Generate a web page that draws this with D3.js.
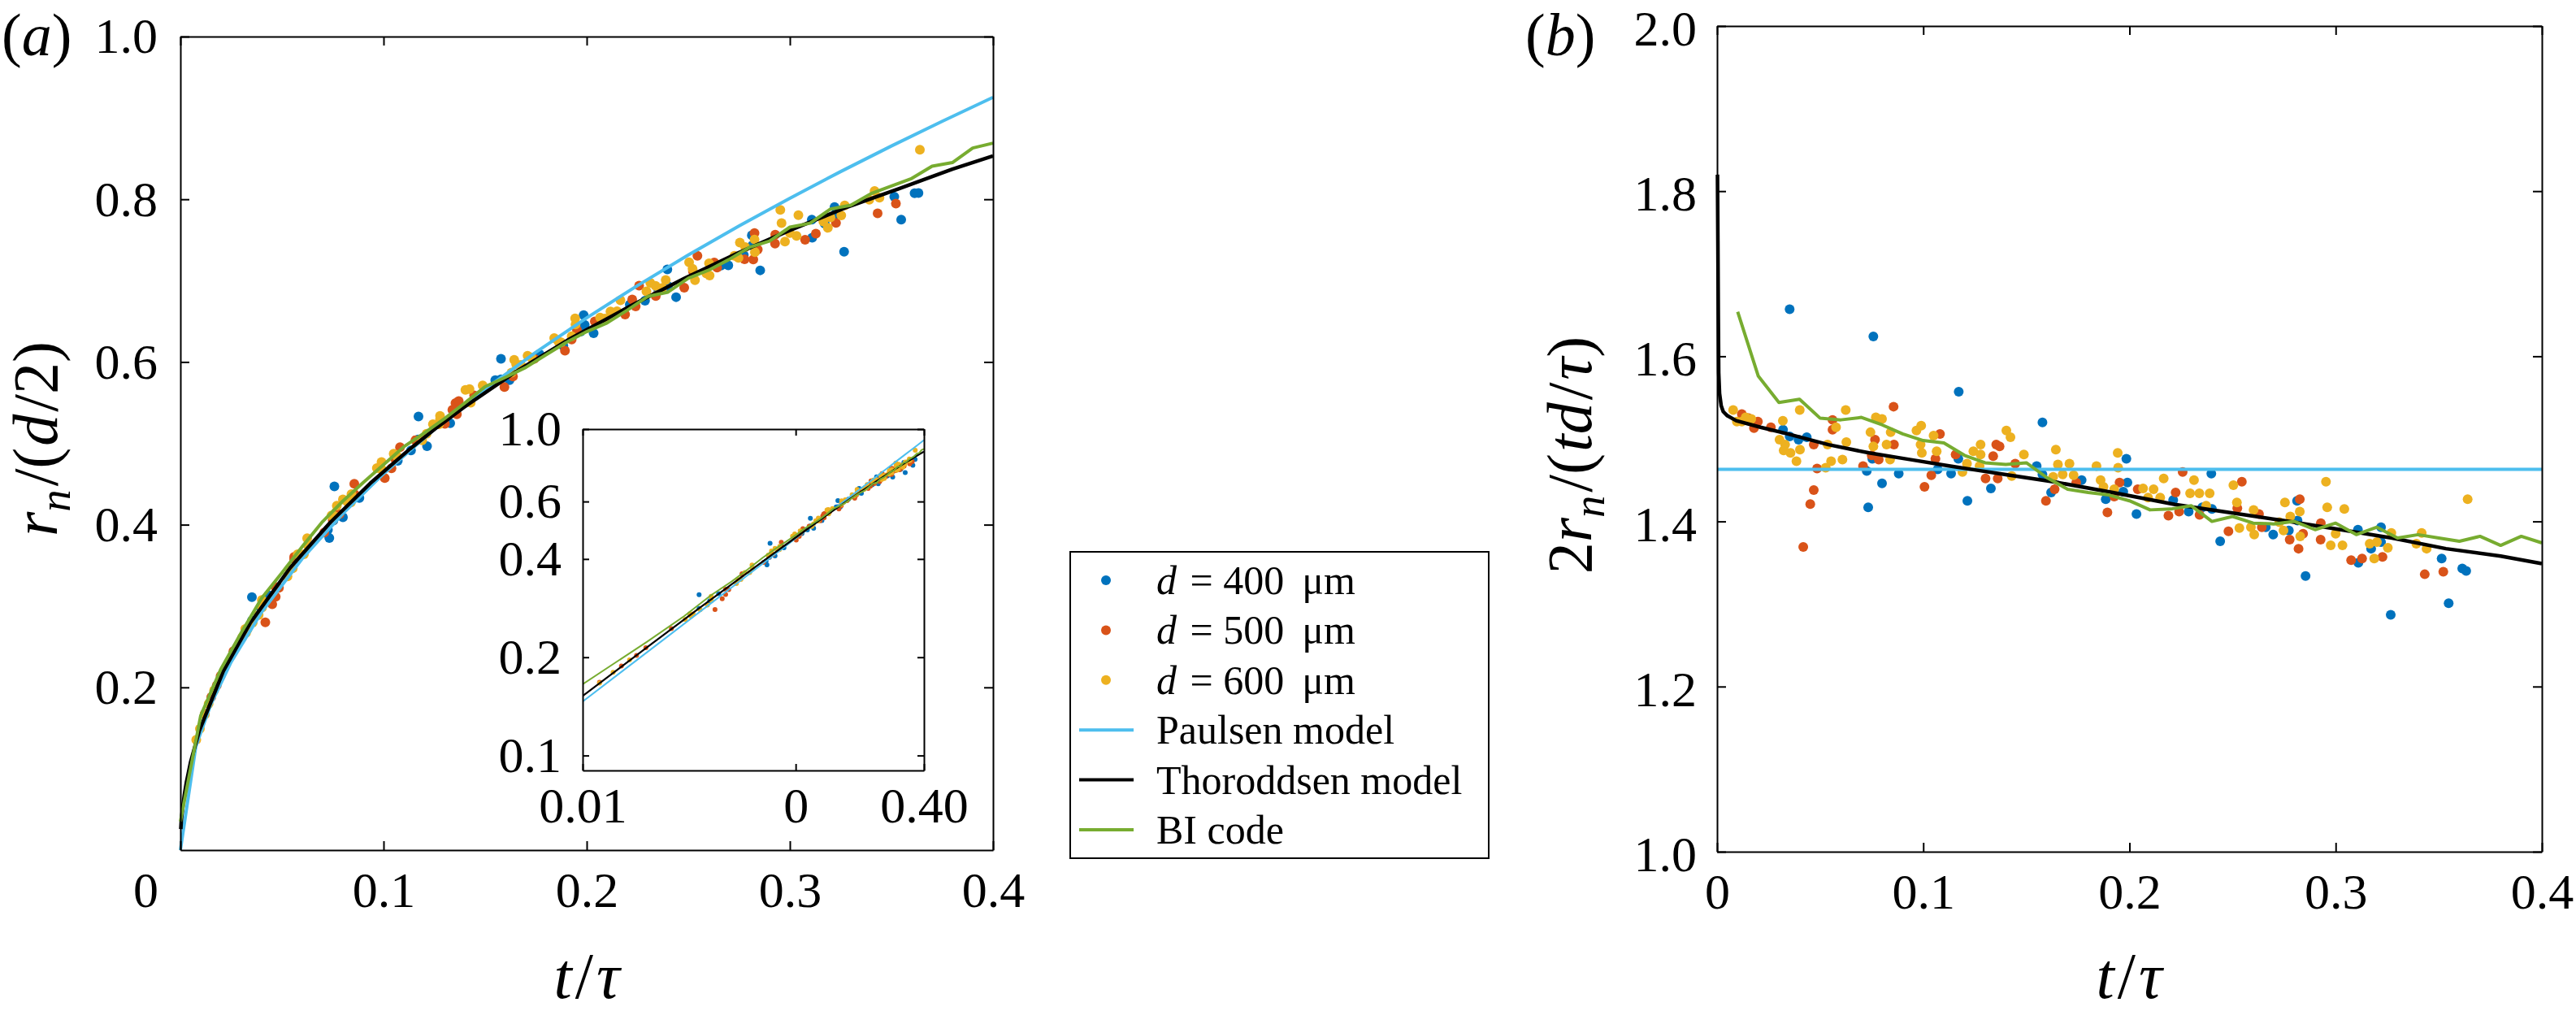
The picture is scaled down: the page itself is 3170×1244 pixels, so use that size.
<!DOCTYPE html>
<html>
<head>
<meta charset="utf-8">
<script src="https://cdn.jsdelivr.net/npm/d3@7"></script>
<style>
  body { margin: 0; background: #fff; }
  text { font-family: "Liberation Serif", "Times New Roman", serif; }
</style>
</head>
<body>
<script>
const d400T = [0.032, 0.0352, 0.0352, 0.0395, 0.0435, 0.0726, 0.0733, 0.0753, 0.0758, 0.080, 0.0881, 0.107, 0.1135, 0.117, 0.1172, 0.1214, 0.1328, 0.155, 0.1578, 0.1578, 0.162, 0.1768, 0.1885, 0.197, 0.1985, 0.199, 0.2034, 0.2212, 0.2287, 0.2353, 0.2397, 0.24, 0.244, 0.2661, 0.2697, 0.2773, 0.2813, 0.2815, 0.2854, 0.3108, 0.311, 0.3172, 0.322, 0.322, 0.3267, 0.3514, 0.3548, 0.3614, 0.3633];
const d400V = [1.511, 1.657, 1.503, 1.499, 1.502, 1.461, 1.417, 1.476, 1.624, 1.446, 1.458, 1.463, 1.458, 1.476, 1.557, 1.425, 1.440, 1.467, 1.520, 1.457, 1.435, 1.450, 1.427, 1.436, 1.476, 1.447, 1.409, 1.426, 1.412, 1.417, 1.458, 1.415, 1.376, 1.393, 1.384, 1.389, 1.425, 1.401, 1.334, 1.390, 1.350, 1.367, 1.393, 1.375, 1.287, 1.355, 1.301, 1.343, 1.340];

const d500T = [0.012, 0.0152, 0.0179, 0.0198, 0.0261, 0.0418, 0.0452, 0.0469, 0.0469, 0.0485, 0.056, 0.056, 0.0708, 0.075, 0.0766, 0.0784, 0.0856, 0.0858, 0.1006, 0.1039, 0.1059, 0.1081, 0.1157, 0.1302, 0.1339, 0.1354, 0.1361, 0.137, 0.1446, 0.1595, 0.1637, 0.1742, 0.1893, 0.1926, 0.1952, 0.204, 0.2189, 0.2224, 0.2241, 0.2258, 0.234, 0.248, 0.2523, 0.2545, 0.2628, 0.2642, 0.2777, 0.282, 0.2826, 0.2842, 0.2927, 0.2928, 0.3075, 0.3128, 0.3227, 0.3432, 0.3522];
const d500V = [1.530, 1.525, 1.513, 1.521, 1.514, 1.369, 1.421, 1.438, 1.493, 1.464, 1.523, 1.511, 1.467, 1.480, 1.499, 1.475, 1.539, 1.493, 1.442, 1.456, 1.476, 1.506, 1.481, 1.452, 1.479, 1.493, 1.452, 1.491, 1.470, 1.425, 1.439, 1.447, 1.411, 1.430, 1.447, 1.439, 1.407, 1.435, 1.412, 1.460, 1.408, 1.388, 1.416, 1.448, 1.409, 1.393, 1.378, 1.367, 1.427, 1.385, 1.378, 1.398, 1.353, 1.355, 1.357, 1.336, 1.339];

const d600T = [0.0078, 0.0096, 0.012, 0.0139, 0.0166, 0.0303, 0.0319, 0.0323, 0.033, 0.0356, 0.0385, 0.0401, 0.0402, 0.0527, 0.0536, 0.0553, 0.0577, 0.0608, 0.0624, 0.0627, 0.0744, 0.0758, 0.077, 0.08, 0.0822, 0.0839, 0.0842, 0.0967, 0.0987, 0.099, 0.0993, 0.105, 0.1065, 0.119, 0.1212, 0.1243, 0.1273, 0.1278, 0.1278, 0.1403, 0.1423, 0.1429, 0.1488, 0.163, 0.1643, 0.1653, 0.1676, 0.1709, 0.1729, 0.184, 0.186, 0.1874, 0.1926, 0.1943, 0.1945, 0.2066, 0.209, 0.2117, 0.2149, 0.2166, 0.2294, 0.2313, 0.2339, 0.2372, 0.2389, 0.2504, 0.2521, 0.2533, 0.2589, 0.2602, 0.2605, 0.2727, 0.2747, 0.2754, 0.278, 0.2826, 0.2828, 0.2953, 0.2959, 0.2976, 0.3, 0.3033, 0.3042, 0.3165, 0.3187, 0.32, 0.3253, 0.327, 0.3391, 0.3417, 0.3441, 0.364];
const d600V = [1.535, 1.521, 1.521, 1.526, 1.524, 1.499, 1.522, 1.486, 1.493, 1.483, 1.473, 1.535, 1.487, 1.465, 1.493, 1.473, 1.514, 1.475, 1.535, 1.496, 1.508, 1.491, 1.526, 1.524, 1.493, 1.475, 1.508, 1.510, 1.493, 1.516, 1.483, 1.504, 1.485, 1.460, 1.470, 1.485, 1.467, 1.493, 1.481, 1.510, 1.502, 1.455, 1.481, 1.454, 1.487, 1.469, 1.457, 1.470, 1.456, 1.467, 1.450, 1.442, 1.439, 1.483, 1.465, 1.440, 1.429, 1.439, 1.429, 1.452, 1.434, 1.450, 1.434, 1.419, 1.434, 1.444, 1.423, 1.392, 1.393, 1.414, 1.384, 1.399, 1.389, 1.423, 1.406, 1.412, 1.382, 1.448, 1.417, 1.371, 1.385, 1.371, 1.415, 1.373, 1.355, 1.375, 1.368, 1.386, 1.373, 1.386, 1.367, 1.427];

// model curves, same normalisation
const paulsenT = [0, 0.0076, 0.015, 0.025, 0.04, 0.06, 0.08, 0.1, 0.125, 0.15, 0.175, 0.2, 0.225, 0.25, 0.275, 0.3, 0.325, 0.35, 0.375, 0.4];
const paulsenV = [1.463, 1.463, 1.463, 1.463, 1.463, 1.463, 1.463, 1.463, 1.463, 1.463, 1.463, 1.463, 1.463, 1.463, 1.463, 1.463, 1.463, 1.463, 1.463, 1.463];

const thoroddsenT = [0.0002, 0.0004, 0.0006, 0.0008, 0.0012, 0.002, 0.003, 0.005, 0.0093, 0.0211, 0.0343, 0.054, 0.0737, 0.0934, 0.1131, 0.1262, 0.1394, 0.1656, 0.1919, 0.2221, 0.2481, 0.2747, 0.3, 0.3273, 0.3535, 0.38, 0.4];
const thoroddsenV = [1.82, 1.74, 1.65, 1.58, 1.555, 1.54, 1.533, 1.528, 1.522, 1.514, 1.506, 1.493, 1.483, 1.475, 1.467, 1.462, 1.457, 1.447, 1.435, 1.4206, 1.411, 1.401, 1.391, 1.380, 1.367, 1.358, 1.349];

const biT = [0.01, 0.02, 0.03, 0.04, 0.05, 0.06, 0.07, 0.08, 0.09, 0.10, 0.11, 0.12, 0.13, 0.14, 0.15, 0.16, 0.17, 0.18, 0.19, 0.20, 0.21, 0.22, 0.23, 0.24, 0.25, 0.26, 0.27, 0.28, 0.29, 0.30, 0.31, 0.32, 0.33, 0.34, 0.35, 0.36, 0.37, 0.38, 0.39, 0.40];
const biV = [1.654, 1.576, 1.544, 1.548, 1.525, 1.523, 1.526, 1.517, 1.506, 1.498, 1.495, 1.480, 1.471, 1.469, 1.471, 1.453, 1.439, 1.435, 1.432, 1.425, 1.414, 1.415, 1.419, 1.400, 1.406, 1.398, 1.397, 1.400, 1.390, 1.398, 1.384, 1.393, 1.380, 1.384, 1.380, 1.376, 1.382, 1.371, 1.382, 1.374];
// BI code in panel (a) starts from a finite radius r_n/(d/2) at t = 0
const biStartT = [0];
const biStartR = [0.035];

// ticks
const xTicks = [0, 0.1, 0.2, 0.3, 0.4];
const xTickLabels = ["0", "0.1", "0.2", "0.3", "0.4"];
const yTicksA = [0.2, 0.4, 0.6, 0.8, 1.0];
const yTickLabelsA = ["0.2", "0.4", "0.6", "0.8", "1.0"];
const yTicksB = [1.0, 1.2, 1.4, 1.6, 1.8, 2.0];
const yTickLabelsB = ["1.0", "1.2", "1.4", "1.6", "1.8", "2.0"];
const insetXTicks = [0.01, 0.1, 0.4];
const insetXTickLabels = ["0.01", "0", "0.40"];
const insetYTicks = [0.1, 0.2, 0.4, 0.6, 1.0];
const insetYTickLabels = ["0.1", "0.2", "0.4", "0.6", "1.0"];

const legendLabels = ["400", "500", "600"];
const modelNames = ["Paulsen model", "Thoroddsen model", "BI code"];

const colors = {
  d400: "#0072BD", d500: "#D95319", d600: "#EDB120",
  paulsen: "#4DBEEE", thoroddsen: "#000000", bi: "#77AC30"
};

const FONT = "Liberation Serif, Times New Roman, serif";

var svg = d3.select("body")
  .append("svg")
  .attr("width", 3170)
  .attr("height", 1244)
  .style("background", "#fff");

// scales
var xA = d3.scaleLinear().domain([0, 0.4]).range([222, 1222]);
var yA = d3.scaleLinear().domain([0, 1]).range([1046, 45]);
var xB = d3.scaleLinear().domain([0, 0.4]).range([2113, 3128]);
var yB = d3.scaleLinear().domain([1, 2]).range([1048, 32]);
var xI = d3.scaleLog().domain([0.01, 0.4]).range([717, 1137]);
var yI = d3.scaleLog().domain([0.09, 1]).range([948, 528]);

function zipPts(ts, vs) {
  return ts.map((t, i) => ({ t: t, v: vs[i] }));
}
// panel (a) shows the un-normalised radius r_n/(d/2) = value * sqrt(t/tau)
function radius(d) { return d.raw ? d.v : d.v * Math.sqrt(d.t); }
function ratio(d) { return d.v; }

var pointSets = [
  { pts: zipPts(d400T, d400V), color: colors.d400 },
  { pts: zipPts(d500T, d500V), color: colors.d500 },
  { pts: zipPts(d600T, d600V), color: colors.d600 }
];
var curveSets = [
  { pts: zipPts(paulsenT, paulsenV), color: colors.paulsen, w: 4 },
  { pts: zipPts(thoroddsenT, thoroddsenV), color: colors.thoroddsen, w: 4.5 },
  { pts: zipPts(biT, biV), color: colors.bi, w: 4 }
];
var biStart = biStartT.map((t, k) => ({ t: t, v: biStartR[k], raw: true }));

// axes box with inward ticks on all four sides
function frame(g, x, y, xt, xl, yt, yl, opt) {
  let tl = opt.tick;
  let bottom = g.append("g")
    .attr("transform", `translate(0,${y.range()[0]})`)
    .call(d3.axisBottom(x).tickValues(xt).tickSizeInner(-tl).tickSizeOuter(0)
      .tickPadding(opt.xPad).tickFormat((d, i) => xl[i]));
  let top = g.append("g")
    .attr("transform", `translate(0,${y.range()[1]})`)
    .call(d3.axisTop(x).tickValues(xt).tickSizeInner(-tl).tickSizeOuter(0).tickFormat(""));
  let left = g.append("g")
    .attr("transform", `translate(${x.range()[0]},0)`)
    .call(d3.axisLeft(y).tickValues(yt).tickSizeInner(-tl).tickSizeOuter(0)
      .tickPadding(opt.yPad).tickFormat((d, i) => yl[i]));
  let right = g.append("g")
    .attr("transform", `translate(${x.range()[1]},0)`)
    .call(d3.axisRight(y).tickValues(yt).tickSizeInner(-tl).tickSizeOuter(0).tickFormat(""));
  [bottom, top, left, right].forEach(a => {
    a.attr("font-family", FONT).attr("font-size", opt.font);
    a.selectAll("path.domain").attr("stroke", "#000").attr("stroke-width", opt.stroke || 2);
    a.selectAll(".tick line").attr("stroke", "#000").attr("stroke-width", opt.stroke || 2);
    a.selectAll(".tick text").attr("fill", "#000");
  });
  if (opt.yDy) left.selectAll(".tick text").attr("dy", opt.yDy);
  return { bottom: bottom, left: left };
}

function drawPanel(g, x, y, pointR, yOf, curvePts) {
  pointSets.forEach(s => {
    g.append("g").selectAll("circle")
      .data(s.pts)
      .join("circle")
      .attr("cx", d => x(d.t))
      .attr("cy", d => y(yOf(d)))
      .attr("r", pointR)
      .attr("fill", s.color);
  });
  curveSets.forEach((c, i) => {
    g.append("path")
      .attr("d", d3.line().x(d => x(d.t)).y(d => y(yOf(d)))(curvePts(c, i)))
      .attr("fill", "none")
      .attr("stroke", c.color)
      .attr("stroke-width", c.w * pointR / 6)
      .attr("stroke-linejoin", "round");
  });
}

// ---------- panel (a) ----------
var gA = svg.append("g");
drawPanel(gA, xA, yA, 6, radius, (c, i) => i === 2 ? biStart.concat(c.pts) : c.pts);
var axA = frame(gA, xA, yA, xTicks, xTickLabels, yTicksA, yTickLabelsA,
  { tick: 11, font: 62, xPad: 26, yPad: 28 });
// the "0" label sits left of the corner in the original
axA.bottom.selectAll(".tick text").filter(d => d === 0).attr("x", -43);

// ---------- inset ----------
var gI = svg.append("g");
gI.append("rect").attr("x", 717).attr("y", 528).attr("width", 420).attr("height", 420).attr("fill", "#fff");
svg.append("clipPath").attr("id", "insetClip")
  .append("rect").attr("x", 717).attr("y", 528).attr("width", 420).attr("height", 420);
var gIc = gI.append("g").attr("clip-path", "url(#insetClip)");
drawPanel(gIc, xI, yI, 3, radius, (c, i) => c.pts.filter(d => d.t > 0.004));
frame(gI, xI, yI, insetXTicks, insetXTickLabels, insetYTicks, insetYTickLabels,
  { tick: 8, font: 62, xPad: 20, yPad: 26 });

// ---------- panel (b) ----------
var gB = svg.append("g");
drawPanel(gB, xB, yB, 6, ratio, (c, i) => c.pts);
frame(gB, xB, yB, xTicks, xTickLabels, yTicksB, yTickLabelsB,
  { tick: 11, font: 62, xPad: 26, yPad: 25, yDy: "0.38em" });

// ---------- labels ----------
function mathText(g, parts, size) {
  let t = g.append("text").attr("font-size", size).attr("fill", "#000");
  parts.forEach(p => {
    let s = t.append("tspan").text(p.s);
    if (p.it) s.attr("font-style", "italic");
    if (p.sub) s.attr("font-size", size * 0.7).attr("dy", size * 0.2);
    if (p.up) s.attr("dy", -size * 0.2);
    if (p.dx) s.attr("dx", p.dx);
  });
  return t;
}

var tLabel = [{ s: "t", it: true }, { s: "/", dx: 4 }, { s: "\u03C4", it: true, dx: 4 }];
mathText(svg, tLabel, 80).attr("x", 722).attr("y", 1228).attr("text-anchor", "middle");
mathText(svg, tLabel, 80).attr("x", 2620).attr("y", 1228).attr("text-anchor", "middle");

mathText(svg, [{ s: "r", it: true }, { s: "n", it: true, sub: true }, { s: "/(", up: true, dx: 4 },
  { s: "d", it: true, dx: 2 }, { s: "/2)", dx: 3 }], 78)
  .attr("text-anchor", "middle")
  .attr("transform", "translate(70,540) rotate(-90)");

mathText(svg, [{ s: "2" }, { s: "r", it: true }, { s: "n", it: true, sub: true }, { s: "/(", up: true, dx: 4 },
  { s: "td", it: true, dx: 2 }, { s: "/", dx: 3 }, { s: "\u03C4", it: true, dx: 3 }, { s: ")" }], 78)
  .attr("text-anchor", "middle")
  .attr("transform", "translate(1958,560) rotate(-90)");

mathText(svg, [{ s: "(" }, { s: "a", it: true }, { s: ")" }], 74).attr("x", 2).attr("y", 68);
mathText(svg, [{ s: "(" }, { s: "b", it: true }, { s: ")" }], 74).attr("x", 1877).attr("y", 68);

// ---------- legend ----------
var leg = svg.append("g").attr("font-family", FONT);
leg.append("rect")
  .attr("x", 1317).attr("y", 679).attr("width", 515).attr("height", 377)
  .attr("fill", "#fff").attr("stroke", "#000").attr("stroke-width", 2);
var rowY = d3.scalePoint().domain(d3.range(6)).range([714, 1021]);
pointSets.forEach((s, i) => {
  leg.append("circle").attr("cx", 1361).attr("cy", rowY(i)).attr("r", 6).attr("fill", s.color);
  let t = leg.append("text").attr("x", 1423).attr("y", rowY(i)).attr("dy", "0.34em")
    .attr("font-size", 50).attr("fill", "#000");
  t.append("tspan").attr("font-style", "italic").text("d");
  t.append("tspan").attr("dx", 4).text(" = " + legendLabels[i]);
  t.append("tspan").attr("dx", 22).text("\u03BCm");
});
curveSets.forEach((c, i) => {
  let yy = rowY(i + 3);
  leg.append("line").attr("x1", 1328).attr("x2", 1395).attr("y1", yy).attr("y2", yy)
    .attr("stroke", c.color).attr("stroke-width", 4);
  leg.append("text").attr("x", 1423).attr("y", yy).attr("dy", "0.34em")
    .attr("font-size", 50).attr("fill", "#000").text(modelNames[i]);
});
</script>
</body>
</html>
